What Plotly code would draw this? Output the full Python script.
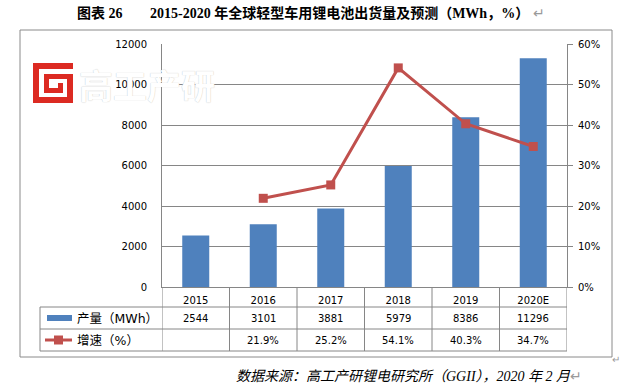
import plotly.graph_objects as go

# ---------------- data ----------------
years = ["2015", "2016", "2017", "2018", "2019", "2020E"]
output_mwh = [2544, 3101, 3881, 5979, 8386, 11296]
growth_pct = [None, 21.9, 25.2, 54.1, 40.3, 34.7]
series_names = ["产量（MWh）", "增速（%）"]
title_left = "图表 26"
title_right = "2015-2020 年全球轻型车用锂电池出货量及预测（MWh，%）"
source_text = "数据来源：高工产研锂电研究所（GGII），2020 年 2 月"
watermark_text = "高工产研"

BLUE = "#4F81BD"
RED = "#C0504D"
LOGO_RED = "#DC2A22"
GRID = "#868686"
W, H = 626, 389
L, R, T, B = 162, 567, 44, 287   # plot area in pixels


def px(xp):
    return (xp - L) / (R - L)


def py(yp):
    return (B - yp) / (B - T)


fig = go.Figure()
fig.add_trace(go.Bar(x=years, y=output_mwh, name=series_names[0],
                     marker=dict(color=BLUE, line=dict(width=0)),
                     showlegend=False, hoverinfo="skip"))
fig.add_trace(go.Scatter(x=years, y=growth_pct, name=series_names[1], yaxis="y2",
                         mode="lines+markers",
                         line=dict(color=RED, width=3),
                         marker=dict(symbol="square", size=9, color=RED),
                         showlegend=False, hoverinfo="skip"))

tickfont = dict(family="DejaVu Sans, Noto Sans CJK SC", size=10, color="#000000")

fig.update_layout(
    width=W, height=H,
    margin=dict(l=L, r=W - R, t=T, b=H - B, pad=0),
    paper_bgcolor="white", plot_bgcolor="white",
    bargap=0.6,
    xaxis=dict(type="category", range=[-0.5, 5.5], showgrid=False,
               showline=True, linecolor=GRID, linewidth=1,
               ticks="", tickfont=tickfont, ticklabelstandoff=4,
               fixedrange=True),
    yaxis=dict(range=[0, 12000], dtick=2000, showgrid=True, gridcolor=GRID,
               gridwidth=1, showline=True, linecolor=GRID, linewidth=1,
               zeroline=False, ticks="", tickfont=tickfont,
               ticklabelstandoff=12, tickformat="d"),
    yaxis2=dict(range=[0, 60], dtick=10, overlaying="y", side="right",
                showgrid=False, showline=True, linecolor=GRID, linewidth=1,
                zeroline=False, ticks="outside", ticklen=5, tickcolor=GRID,
                ticksuffix="%", tickfont=tickfont, ticklabelstandoff=3),
)

shapes = []
line_style = dict(color=GRID, width=1)
# outer border
shapes.append(dict(type="rect", xref="paper", yref="paper",
                   x0=px(20), x1=px(612), y0=py(30), y1=py(357),
                   line=dict(color="#8a8a8a", width=1), layer="below"))
# data table horizontal lines
for yy in [307, 329, 351]:
    shapes.append(dict(type="line", xref="paper", yref="paper",
                       x0=px(40), x1=px(R), y0=py(yy), y1=py(yy), line=line_style))
# legend column left border
shapes.append(dict(type="line", xref="paper", yref="paper",
                   x0=px(40), x1=px(40), y0=py(307), y1=py(351), line=line_style))
# category separators
for i in range(len(years) + 1):
    shapes.append(dict(type="line", xref="x", yref="paper",
                       x0=i - 0.5, x1=i - 0.5, y0=py(B), y1=py(351), line=line_style))
# legend symbols
shapes.append(dict(type="rect", xref="paper", yref="paper",
                   x0=px(47), x1=px(72), y0=py(315), y1=py(321),
                   fillcolor=BLUE, line=dict(width=0)))
shapes.append(dict(type="line", xref="paper", yref="paper",
                   x0=px(45), x1=px(72), y0=py(340), y1=py(340),
                   line=dict(color=RED, width=3)))
shapes.append(dict(type="rect", xref="paper", yref="paper",
                   x0=px(54), x1=px(63), y0=py(335.5), y1=py(344.5),
                   fillcolor=RED, line=dict(width=0)))

# watermark logo (red spiral "G")
logo_rects = [
    ((33, 73, 63, 103), LOGO_RED),
    ((39, 67, 69, 97), "white"),
    ((67, 73, 69, 74), "white"),
    ((44, 73, 74, 79), LOGO_RED),
    ((44, 49, 74, 93), LOGO_RED),
    ((44, 63, 88, 93), LOGO_RED),
    ((58, 63, 83, 93), LOGO_RED),
]
for (x0, x1, y0, y1), c in logo_rects:
    shapes.append(dict(type="rect", xref="paper", yref="paper",
                       x0=px(x0), x1=px(x1), y0=py(y0), y1=py(y1),
                       fillcolor=c, line=dict(width=0), layer="above"))
fig.update_layout(shapes=shapes)

ann = []
cjk = "Liberation Serif, Noto Sans CJK SC"
# title (two parts)
ann.append(dict(xref="paper", yref="paper", x=px(75), y=py(13),
                xanchor="left", yanchor="middle", showarrow=False,
                text="<b>" + title_left + "</b>",
                font=dict(family=cjk, size=14, color="#000000")))
ann.append(dict(xref="paper", yref="paper", x=px(148), y=py(13),
                xanchor="left", yanchor="middle", showarrow=False,
                text="<b>" + title_right + "</b><span style='color:#9a9a9a'> ↵</span>",
                font=dict(family=cjk, size=14, color="#000000")))
# source
ann.append(dict(xref="paper", yref="paper", x=px(234), y=py(377),
                xanchor="left", yanchor="middle", showarrow=False,
                text="<i>" + source_text + "</i><span style='color:#9a9a9a'>↵</span>",
                font=dict(family=cjk, size=14, color="#000000")))
ann.append(dict(xref="paper", yref="paper", x=px(616), y=py(359),
                xanchor="center", yanchor="middle", showarrow=False,
                text="↵", font=dict(family=cjk, size=10, color="#9a9a9a")))
# legend labels
for name, yy in zip(series_names, [318, 340]):
    ann.append(dict(xref="paper", yref="paper", x=px(75), y=py(yy),
                    xanchor="left", yanchor="middle", showarrow=False,
                    text=name, font=dict(family="DejaVu Sans, Noto Sans CJK SC",
                                         size=12.5, color="#000000")))
# table values
for i, yr in enumerate(years):
    ann.append(dict(xref="x", yref="paper", x=i, y=py(318),
                    xanchor="center", yanchor="middle", showarrow=False,
                    text=str(output_mwh[i]), font=tickfont))
    if growth_pct[i] is not None:
        ann.append(dict(xref="x", yref="paper", x=i, y=py(340),
                        xanchor="center", yanchor="middle", showarrow=False,
                        text=f"{growth_pct[i]:.1f}%", font=tickfont))
# watermark text
ann.append(dict(xref="paper", yref="paper", x=px(77), y=py(84),
                xanchor="left", yanchor="middle", showarrow=False,
                text=watermark_text,
                font=dict(family="Noto Sans CJK SC", size=34, weight=700, color="white",
                          shadow="0px 0px 1px #b8b8b8")))
fig.update_layout(annotations=ann)

fig.write_html("out.html", config={"displayModeBar": False},
               post_script="document.body.style.margin='0';document.body.style.overflow='hidden';")
